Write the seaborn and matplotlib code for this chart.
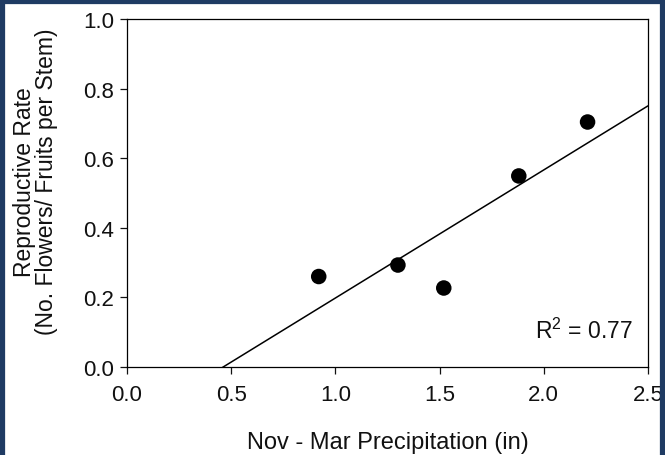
"""
Reproductive rate vs. winter precipitation, with a linear fit
"""

import numpy as np
import pandas as pd
import matplotlib
matplotlib.use("Agg")
import matplotlib.pyplot as plt
from matplotlib.lines import Line2D
import seaborn as sns

# data
precip_in = [0.92, 1.30, 1.52, 1.88, 2.21]
repro_rate = [0.26, 0.293, 0.227, 0.549, 0.704]
r2_text = "R$^2$ = 0.77"
x_ticks = [0.0, 0.5, 1.0, 1.5, 2.0, 2.5]
y_ticks = [0.0, 0.2, 0.4, 0.6, 0.8, 1.0]

df = pd.DataFrame({"precip": precip_in, "rate": repro_rate})

sns.set_style("ticks")
plt.rcParams["font.family"] = ["Liberation Sans", "DejaVu Sans"]
plt.rcParams["mathtext.fontset"] = "custom"
plt.rcParams["mathtext.rm"] = "Liberation Sans"

fig = plt.figure(figsize=(6.65, 4.56), dpi=100)
ax = fig.add_axes([127 / 665, 1 - 368 / 456, 521 / 665, 348 / 456])

ax.set_xlim(0, 2.5)
ax.set_ylim(0, 1.0)
sns.regplot(data=df, x="precip", y="rate", ax=ax, ci=None, truncate=False,
            scatter_kws=dict(s=125, color="black", edgecolors="none", alpha=1),
            line_kws=dict(color="black", linewidth=1.1))
ax.set_xlim(0, 2.5)
ax.set_ylim(0, 1.0)

ax.set_xticks(x_ticks)
ax.set_yticks(y_ticks)
ax.set_xticklabels([f"{t:.1f}" for t in x_ticks])
ax.set_yticklabels([f"{t:.1f}" for t in y_ticks])
ax.tick_params(axis="both", direction="out", length=5, width=0.9,
               labelsize=16, colors="#111111", pad=4)
ax.tick_params(axis="x", pad=7)

for side in ["top", "right", "left", "bottom"]:
    ax.spines[side].set_visible(True)
    ax.spines[side].set_color("black")
    ax.spines[side].set_linewidth(0.9)

ax.set_xlabel("Nov - Mar Precipitation (in)", fontsize=17, labelpad=19,
              color="#111111")
ax.set_ylabel("Reproductive Rate\n(No. Flowers/ Fruits per Stem)", fontsize=16.5,
              linespacing=0.92, color="#111111")
ax.yaxis.set_label_coords(-0.133, 0.535)

ax.text(0.97, 0.07, r2_text, transform=ax.transAxes, ha="right", va="bottom",
        fontsize=16.5, color="#111111")

# dark frame around the figure (left, top, right)
frame_col = "#1f3b63"
lw = 4.5
fig.add_artist(Line2D([0.0035, 0.0035], [0, 1], transform=fig.transFigure,
                      color=frame_col, linewidth=lw))
fig.add_artist(Line2D([0.9965, 0.9965], [0, 1], transform=fig.transFigure,
                      color=frame_col, linewidth=lw))
fig.add_artist(Line2D([0, 1], [0.995, 0.995], transform=fig.transFigure,
                      color=frame_col, linewidth=lw))

fig.savefig("out.png", dpi=100)
